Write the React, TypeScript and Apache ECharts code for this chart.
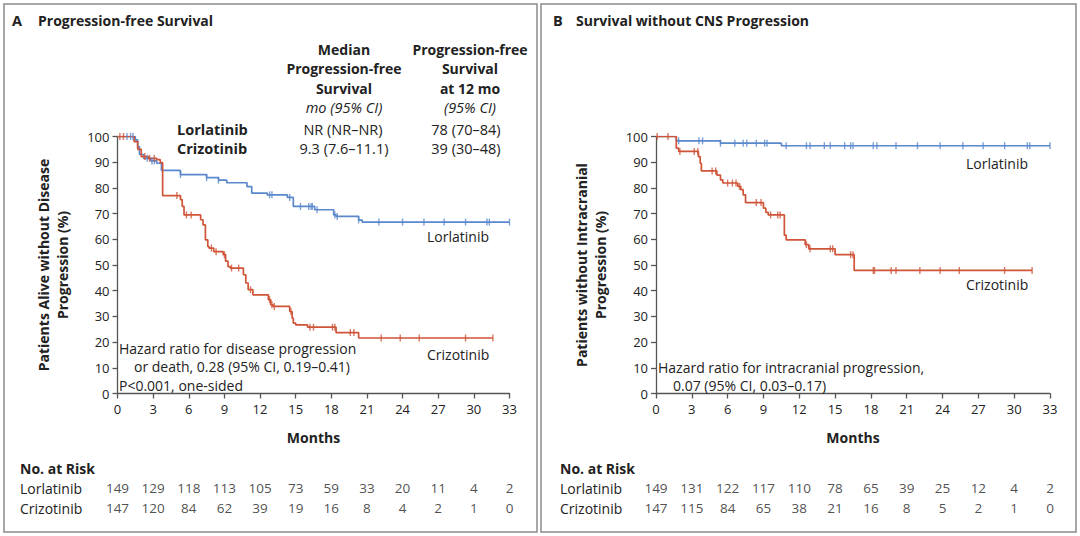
import React, { useEffect, useRef } from "react";
import * as echarts from "echarts";

const FONT = "Open Sans";
const BLUE = "#5a88cc";
const RED = "#cf5438";
const AXIS = "#555555";
const TEXT = "#222222";
const BORDER = "#8c8c8c";

// Month ticks / risk-table time points
const monthTicks = [0, 3, 6, 9, 12, 15, 18, 21, 24, 27, 30, 33];

// Panel A – progression-free survival (month, % alive without progression)
const pfsLorlatinib: [number, number][] = [
  [0, 100], [1.5, 98.7], [1.7, 96], [1.85, 93], [2.2, 91.5], [2.8, 90.5], [3.3, 89.6],
  [3.7, 86.8], [5.3, 85.2], [7.5, 84], [8.5, 83], [9.2, 82], [10.9, 80.5], [11.3, 78],
  [12.6, 77.3], [14.3, 76.3], [14.8, 72.8], [16.6, 71.5], [18.2, 69.5], [18.4, 68.9],
  [20.3, 67.5], [20.6, 66.7], [33, 66.7],
];
const pfsCrizotinib: [number, number][] = [
  [0, 100], [1.4, 98], [1.7, 95], [2.0, 92.2], [2.6, 91.5], [3.3, 91], [3.6, 89.8],
  [3.8, 77], [5.3, 75.4], [5.45, 72.8], [5.6, 69.5], [7.0, 67.6], [7.2, 65.6], [7.4, 59.8],
  [7.6, 57.2], [7.7, 56.6], [8.1, 55.2], [8.9, 54], [9.1, 51.5], [9.3, 49.4], [9.5, 48.8],
  [10.6, 46.2], [10.8, 43], [11.0, 40.4], [11.4, 38.4], [12.7, 36.5], [12.9, 34.5],
  [13.1, 33.9], [14.5, 31.9], [14.7, 29.3], [14.8, 27.4], [15.0, 26.7], [16.0, 25.8],
  [18.4, 23.7], [20.3, 21.6], [31.6, 21.6],
];
// Censoring times (months)
const pfsLorlatinibCensor = [
  0.8, 1.1, 1.3, 2.5, 2.9, 3.1, 5.3, 7.5, 8.5, 12.8, 13.0, 14.5, 15.4, 16.1, 16.3, 16.4,
  16.8, 18.3, 18.5, 20.3, 22, 24, 25.8, 27.5, 29.3, 31.1, 31.3, 33,
];
const pfsCrizotinibCensor = [
  0.2, 0.5, 2.3, 2.7, 3.1, 5.0, 5.8, 6.2, 7.9, 8.3, 9.0, 9.6, 10.2, 11.2, 12.8, 13.0, 13.2,
  14.6, 16.2, 16.5, 18.1, 18.3, 19.6, 19.9, 22.2, 23.8, 25.4, 29.3, 31.6,
];

// Panel B – survival without CNS progression
const cnsLorlatinib: [number, number][] = [
  [0, 100], [1.7, 98.3], [5.4, 97.4], [10.5, 96.4], [33, 96.4],
];
const cnsCrizotinib: [number, number][] = [
  [0, 100], [1.7, 95.5], [1.9, 94.2], [3.55, 92.2], [3.7, 89.6], [3.8, 86.6], [5.1, 85],
  [5.4, 83.1], [5.6, 81.9], [6.85, 80.6], [7.1, 79.3], [7.3, 77.3], [7.5, 74.3], [9.0, 72.1],
  [9.2, 70.5], [9.4, 69.5], [10.75, 61.6], [10.9, 59.8], [12.5, 57.9], [12.8, 56.3],
  [15.0, 54], [16.6, 47.9], [31.5, 47.9],
];
const cnsLorlatinibCensor = [
  1.9, 3.6, 3.9, 5.4, 6.6, 7.3, 7.6, 8.4, 9.1, 9.3, 10.9, 12.6, 12.9, 14.1, 14.6, 15.8,
  16.3, 16.5, 18.2, 18.5, 20.1, 21.9, 23.8, 25.7, 27.4, 29.2, 31.1, 31.3, 33,
];
const cnsCrizotinibCensor = [
  0.1, 1.0, 2.0, 3.2, 3.5, 4.7, 5.0, 6.0, 6.4, 6.7, 7.0, 8.4, 8.8, 9.6, 10.2, 10.4, 12.6,
  12.9, 14.6, 14.8, 16.3, 16.5, 18.2, 18.3, 19.7, 20.1, 22.1, 23.8, 25.4, 29.2, 31.5,
];

// Numbers at risk
const riskPfsLorlatinib = [149, 129, 118, 113, 105, 73, 59, 33, 20, 11, 4, 2];
const riskPfsCrizotinib = [147, 120, 84, 62, 39, 19, 16, 8, 4, 2, 1, 0];
const riskCnsLorlatinib = [149, 131, 122, 117, 110, 78, 65, 39, 25, 12, 4, 2];
const riskCnsCrizotinib = [147, 115, 84, 65, 38, 21, 16, 8, 5, 2, 1, 0];

function valueAt(curve: [number, number][], t: number): number {
  let v = curve[0][1];
  for (const [x, y] of curve) {
    if (x <= t) v = y;
    else break;
  }
  return v;
}

function censorSeries(curve: [number, number][], times: number[], color: string, idx: number) {
  return {
    type: "scatter",
    xAxisIndex: idx,
    yAxisIndex: idx,
    symbol: "rect",
    symbolSize: [1.4, 7],
    itemStyle: { color },
    silent: true,
    z: 4,
    data: times.map((t) => [t, valueAt(curve, t)]),
  };
}

function lineSeries(name: string, curve: [number, number][], color: string, idx: number) {
  return {
    type: "line",
    name,
    xAxisIndex: idx,
    yAxisIndex: idx,
    step: "end",
    showSymbol: false,
    symbol: "none",
    lineStyle: { color, width: 1.7 },
    z: 3,
    data: curve,
  };
}

function riskSeries(counts: number[], row: number, idx: number) {
  return {
    type: "scatter",
    xAxisIndex: idx,
    yAxisIndex: idx,
    symbolSize: 0,
    silent: true,
    label: {
      show: true,
      position: "inside",
      formatter: (p: any) => String(p.value[2]),
      fontFamily: FONT,
      fontSize: 13.5,
      color: TEXT,
    },
    data: counts.map((c, i) => [monthTicks[i], row, c]),
  };
}

const axisLineStyle = { show: true, lineStyle: { color: AXIS, width: 1.3 } };
const axisTickStyle = { show: true, length: 5, lineStyle: { color: AXIS, width: 1.3 } };

function xAxisMain(idx: number) {
  return {
    type: "value",
    gridIndex: idx,
    min: 0,
    max: 33,
    interval: 3,
    axisLine: axisLineStyle,
    axisTick: axisTickStyle,
    splitLine: { show: false },
    axisLabel: { fontFamily: FONT, fontSize: 13, color: TEXT, margin: 9 },
    name: "Months",
    nameLocation: "middle",
    nameGap: 37,
    nameTextStyle: { fontFamily: FONT, fontSize: 14, fontWeight: "bold", color: TEXT },
  };
}

function yAxisMain(idx: number, name: string) {
  return {
    type: "value",
    gridIndex: idx,
    min: 0,
    max: 100,
    interval: 10,
    axisLine: axisLineStyle,
    axisTick: axisTickStyle,
    splitLine: { show: false },
    axisLabel: { fontFamily: FONT, fontSize: 13, color: TEXT, margin: 8 },
    name,
    nameLocation: "middle",
    nameRotate: 90,
    nameGap: 46,
    nameTextStyle: {
      fontFamily: FONT,
      fontSize: 14,
      fontWeight: "bold",
      color: TEXT,
      lineHeight: 19,
      align: "center",
    },
  };
}

function hiddenAxis(idx: number, min: number, max: number) {
  return { type: "value", gridIndex: idx, min, max, show: false };
}

function txt(text: string, x: number, y: number, opts: any = {}) {
  return {
    type: "text",
    silent: true,
    z: 10,
    style: {
      text,
      x,
      y,
      fill: TEXT,
      fontFamily: FONT,
      fontSize: 14,
      fontWeight: "normal",
      align: "left",
      verticalAlign: "middle",
      ...opts,
    },
  };
}

export default function App() {
  const ref = useRef<HTMLDivElement>(null);

  useEffect(() => {
    if (!ref.current) return;
    const chart = echarts.init(ref.current, undefined, { renderer: "svg" });

    const gridA = { left: 117.5, top: 136.5, width: 392, height: 257 };
    const gridB = { left: 656, top: 136.5, width: 394, height: 257 };
    const riskA = { left: 117.5, top: 478, width: 392, height: 40 };
    const riskB = { left: 656, top: 478, width: 394, height: 40 };

    const bold = { fontWeight: "bold" };
    const center = { align: "center" };
    const head = { fontWeight: "bold", align: "center", fontSize: 14 };
    const val = { align: "center", fontSize: 14.5 };

    chart.setOption({
      animation: false,
      backgroundColor: "#ffffff",
      grid: [gridA, gridB, riskA, riskB],
      xAxis: [xAxisMain(0), xAxisMain(1), hiddenAxis(2, 0, 33), hiddenAxis(3, 0, 33)],
      yAxis: [
        yAxisMain(0, "Patients Alive without Disease\nProgression (%)"),
        yAxisMain(1, "Patients without Intracranial\nProgression (%)"),
        hiddenAxis(2, 0, 2),
        hiddenAxis(3, 0, 2),
      ],
      series: [
        lineSeries("Lorlatinib", pfsLorlatinib, BLUE, 0),
        lineSeries("Crizotinib", pfsCrizotinib, RED, 0),
        censorSeries(pfsLorlatinib, pfsLorlatinibCensor, BLUE, 0),
        censorSeries(pfsCrizotinib, pfsCrizotinibCensor, RED, 0),
        lineSeries("Lorlatinib", cnsLorlatinib, BLUE, 1),
        lineSeries("Crizotinib", cnsCrizotinib, RED, 1),
        censorSeries(cnsLorlatinib, cnsLorlatinibCensor, BLUE, 1),
        censorSeries(cnsCrizotinib, cnsCrizotinibCensor, RED, 1),
        riskSeries(riskPfsLorlatinib, 1.5, 2),
        riskSeries(riskPfsCrizotinib, 0.5, 2),
        riskSeries(riskCnsLorlatinib, 1.5, 3),
        riskSeries(riskCnsCrizotinib, 0.5, 3),
      ],
      graphic: [
        {
          type: "rect",
          silent: true,
          shape: { x: 4, y: 4, width: 533, height: 528 },
          style: { fill: "none", stroke: BORDER, lineWidth: 1.5 },
        },
        {
          type: "rect",
          silent: true,
          shape: { x: 541, y: 4, width: 535, height: 528 },
          style: { fill: "none", stroke: BORDER, lineWidth: 1.5 },
        },
        // Panel A titles
        txt("A", 12, 20, { ...bold, fontSize: 14.5 }),
        txt("Progression-free Survival", 38, 20, { ...bold, fontSize: 14 }),
        // Panel A header table
        txt("Median", 344, 49, head),
        txt("Progression-free", 344, 68.5, head),
        txt("Survival", 344, 88, head),
        txt("mo (95% CI)", 344, 107.5, { ...val, fontStyle: "italic" }),
        txt("Progression-free", 470, 49, head),
        txt("Survival", 470, 68.5, head),
        txt("at 12 mo", 470, 88, head),
        txt("(95% CI)", 470, 107.5, { ...val, fontStyle: "italic" }),
        txt("Lorlatinib", 177, 129.5, { ...bold, fontSize: 14.5 }),
        txt("Crizotinib", 177, 148.5, { ...bold, fontSize: 14.5 }),
        txt("NR (NR–NR)", 343, 129.5, val),
        txt("9.3 (7.6–11.1)", 344, 148.5, val),
        txt("78 (70–84)", 466, 129.5, val),
        txt("39 (30–48)", 466, 148.5, val),
        // Panel A in-plot labels
        txt("Lorlatinib", 427, 236),
        txt("Crizotinib", 427, 354),
        txt("Hazard ratio for disease progression", 119, 348.5),
        txt("or death, 0.28 (95% CI, 0.19–0.41)", 134, 366.5),
        txt("P<0.001, one-sided", 119, 385),
        // Panel A risk table labels
        txt("No. at Risk", 20, 468, bold),
        txt("Lorlatinib", 20, 488),
        txt("Crizotinib", 20, 508),
        // Panel B titles
        txt("B", 553, 20, { ...bold, fontSize: 14.5 }),
        txt("Survival without CNS Progression", 576, 20, { ...bold, fontSize: 14 }),
        txt("Lorlatinib", 966, 163),
        txt("Crizotinib", 966, 284),
        txt("Hazard ratio for intracranial progression,", 658, 367),
        txt("0.07 (95% CI, 0.03–0.17)", 673, 385),
        txt("No. at Risk", 560, 468, bold),
        txt("Lorlatinib", 560, 488),
        txt("Crizotinib", 560, 508),
      ],
    });

    return () => chart.dispose();
  }, []);

  return (
    <div
      ref={ref}
      style={{ position: "fixed", left: 0, top: 0, width: 1080, height: 536, background: "#fff" }}
    />
  );
}
